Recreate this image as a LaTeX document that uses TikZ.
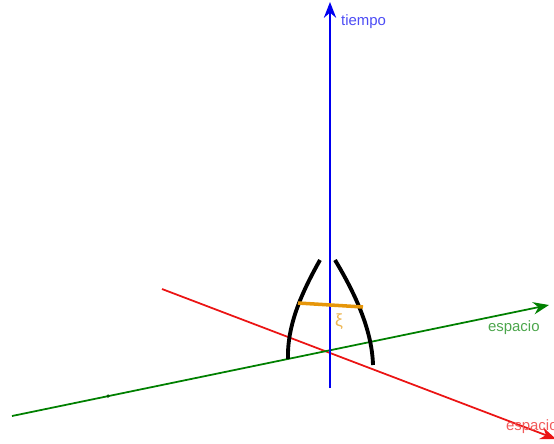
\documentclass[tikz,border=0pt]{standalone}
\usepackage{fontspec}
\setmainfont{Liberation Sans}
\usetikzlibrary{arrows.meta}

\begin{document}
\begin{tikzpicture}[x=0.02cm,y=-0.02cm]
			\tikzset{
				axis/.style={line width=1pt, -{Stealth[length=9pt,width=7pt]}},
				worldline/.style={line width=2.2pt, black},
				axislabel/.style={font=\fontsize{8.5}{10}\selectfont, inner sep=1pt}
			}
			\definecolor{timeblue}{RGB}{0,0,240}
			\definecolor{spacegreen}{RGB}{0,128,0}
			\definecolor{spacered}{RGB}{235,20,20}
			\definecolor{xiorange}{RGB}{230,150,10}

			\useasboundingbox (0,0) rectangle (554,443);
			\clip (0,0) rectangle (554,443);

			% axis end points
			\coordinate (O) at (330,350);
			\coordinate (tbot) at (330,388);
			\coordinate (ttop) at (330,2);
			\coordinate (gleft) at (12,416);
			\coordinate (gright) at (549,305);
			\coordinate (rleft) at (162,289);
			\coordinate (rright) at (556,439);

			% red space axis
			\draw[axis, spacered] (rleft) -- (rright);
			\node[axislabel, text=spacered!70, anchor=west] (rlabel) at (504,427) {espacio};

			% green space axis
			\draw[axis, spacegreen] (gleft) -- (gright);
			\fill[spacegreen!70!black] (108,396) circle (1pt);
			\node[axislabel, text=spacegreen!70, anchor=west] (glabel) at (486,328) {espacio};

			% time axis
			\draw[axis, timeblue] (tbot) -- (ttop);
			\node[axislabel, text=timeblue!70, anchor=west] (tlabel) at (339,22) {tiempo};

			% two world lines
			\coordinate (la) at (320,260);
			\coordinate (lb) at (288,359);
			\coordinate (ra) at (335,260);
			\coordinate (rb) at (373,365);
			\draw[worldline] (la) .. controls (302,292) and (287,325) .. (lb);
			\draw[worldline] (ra) .. controls (353,290) and (372,328) .. (rb);

			% separation xi
			\coordinate (xl) at (298,303);
			\coordinate (xr) at (363,307);
			\draw[line width=2pt, xiorange] (xl) -- (xr);
			\node[text=xiorange!70, font=\fontsize{10}{11}\selectfont] (xi) at (339,322) {ξ};
		\end{tikzpicture}
\end{document}
